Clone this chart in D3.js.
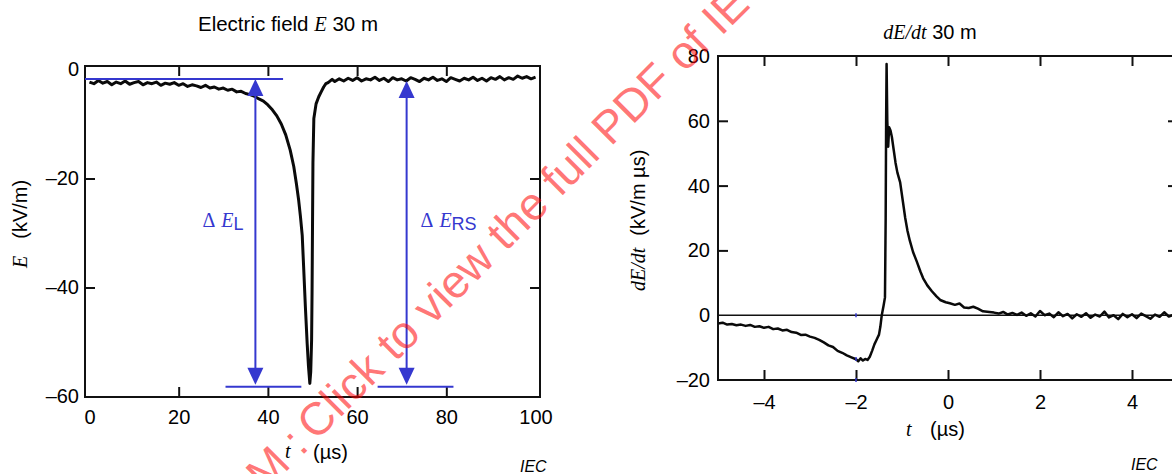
<!DOCTYPE html>
<html><head><meta charset="utf-8">
<script src="https://cdn.jsdelivr.net/npm/d3@7"></script>
<style>body{margin:0;background:#fff}svg{display:block}</style>
</head><body>
<svg id="c" width="1172" height="474"></svg>
<script>
// ---- Data: electric field E at 30 m (left) ----
const fieldTime = [0,1,2,3,4,5,6,7,8,9,10,11,12,13,14,15,16,17,18,19,20,21,22,23,24,25,26,27,28,29,30,31,32,33,34,35,36,37,38,39,40,41,42,43,44,45,45.8,46.4,46.9,47.3,47.7,48.0,48.4,48.8,49.1,49.4,49.6,49.8,49.9,50.0,50.1,50.3,50.8,51.4,52.0,52.5,53.0,53.5,54.4,55,56,57,58,59,60,61,62,63,64,65,66,67,68,69,70,71,72,73,74,75,76,77,78,79,80,81,82,83,84,85,86,87,88,89,90,91,92,93,94,95,96,97,98,99,100];
const fieldValue = [-2.3,-2.6,-2.0,-2.5,-2.2,-2.8,-2.3,-2.6,-2.1,-2.7,-2.4,-2.2,-2.8,-2.4,-2.6,-2.3,-2.9,-2.5,-2.7,-2.4,-2.9,-2.6,-3.1,-2.8,-3.0,-3.3,-2.9,-3.4,-3.2,-3.6,-3.4,-3.8,-3.6,-4.1,-4.0,-4.4,-4.6,-4.9,-5.4,-5.8,-6.5,-7.4,-8.5,-10.0,-12.0,-14.8,-17.8,-21,-24,-27,-30.5,-36,-43.5,-50.2,-54.5,-57.6,-55.5,-49.6,-41,-29,-17,-9,-6.3,-5.0,-4.0,-3.2,-2.6,-2.4,-1.8,-2.2,-1.7,-2.1,-1.6,-2.0,-1.5,-2.1,-1.7,-1.9,-1.4,-2.0,-1.6,-2.2,-1.5,-1.9,-1.7,-2.1,-1.5,-1.8,-2.2,-1.6,-1.9,-1.4,-2.0,-1.7,-2.2,-1.5,-1.8,-2.1,-1.6,-1.9,-1.4,-2.0,-1.6,-2.1,-1.5,-1.8,-1.3,-1.9,-1.5,-1.8,-1.2,-1.6,-1.3,-1.7,-1.4];

// ---- Data: dE/dt at 30 m (right) ----
const slopeTime = [-5,-4.9,-4.8,-4.7,-4.6,-4.5,-4.4,-4.3,-4.2,-4.1,-4.0,-3.9,-3.8,-3.7,-3.6,-3.5,-3.4,-3.3,-3.2,-3.1,-3.0,-2.9,-2.8,-2.7,-2.6,-2.5,-2.4,-2.3,-2.2,-2.1,-2.0,-1.95,-1.9,-1.85,-1.8,-1.75,-1.7,-1.65,-1.6,-1.55,-1.5,-1.47,-1.44,-1.4,-1.37,-1.355,-1.345,-1.335,-1.32,-1.30,-1.28,-1.25,-1.22,-1.18,-1.14,-1.1,-1.04,-0.98,-0.93,-0.88,-0.83,-0.76,-0.68,-0.6,-0.54,-0.45,-0.35,-0.25,-0.17,-0.05,0.04,0.15,0.25,0.35,0.45,0.55,0.65,0.76,0.9,1.0,1.1,1.2,1.3,1.4,1.5,1.6,1.7,1.8,1.9,2.0,2.1,2.2,2.3,2.4,2.5,2.6,2.7,2.8,2.9,3.0,3.1,3.2,3.3,3.4,3.5,3.6,3.7,3.8,3.9,4.0,4.1,4.2,4.3,4.4,4.5,4.6,4.7,4.8,4.9,5.0];
const slopeValue = [-2.6,-2.3,-2.9,-2.7,-3.1,-2.9,-3.3,-3.0,-3.6,-3.4,-3.9,-3.6,-4.3,-4.1,-4.7,-4.5,-5.2,-5.4,-6.1,-6.0,-6.6,-7.0,-7.6,-8.4,-9.3,-9.8,-11.0,-11.6,-12.4,-13.0,-13.6,-14.2,-13.3,-14.0,-13.5,-13.8,-12.8,-11.0,-9.0,-7.5,-6.0,-3.5,0,3,5.5,30,60,77.5,60,52,58,57,55,51,47,44,41,35,30,26,23,19.5,16.6,13.5,11.4,9.2,7.4,5.8,4.7,4.0,3.7,3.2,3.6,2.4,2.2,2.6,2.0,1.2,1.0,0.8,0.5,1.0,0.2,0.7,0.1,0.8,-0.2,0.6,-0.4,1.3,0.0,0.5,-0.6,0.9,-0.3,0.4,-1.0,0.3,-0.5,0.6,-0.8,0.2,-0.4,1.1,-0.7,0.0,-1.2,0.4,-0.6,0.3,-0.9,0.5,-0.3,-1.1,0.2,-0.5,0.9,-0.4,0.1,-0.3];

// ---- Ticks ----
const fieldXLabels = [0,20,40,60,80,100];
const fieldXTicks = [20,40,60,80];
const fieldYLabels = [0,-20,-40,-60];
const fieldYTicks = [-20,-40];
const slopeXLabels = [-4,-2,0,2,4];
const slopeXTicks = [-4,-2,0,2,4];
const slopeYLabels = [-20,0,20,40,60,80];
const slopeYTicks = [20,40,60];

// ---- Annotation values (data units) ----
const levelTop = -1.75, levelBottom = -58.2, levelTopRS = -2.1;
const arrowTimes = [37.2, 71.1];
const topLineSpan = [-1, 43.4];
const bottomLineSpans = [[30.5, 47.5], [64.6, 81.6]];
const slopeMarkTime = -2;
const slopeMarkValues = [0, -13.5, -20];

const SANS = "'Liberation Sans', Arial, Helvetica, sans-serif";
const SERIF = "'Liberation Serif', 'Times New Roman', serif";
const BLUE = "#3538cf";
const fmt = d => d < 0 ? "\u2013" + Math.abs(d) : String(d);

const svg = d3.select("#c");
svg.append("rect").attr("width",1172).attr("height",474).attr("fill","#fff");

// ================= LEFT PANEL =================
const xE = d3.scaleLinear().domain([-1, 101]).range([85, 540]);
const yE = d3.scaleLinear().domain([-60.1, 0.65]).range([397, 66]);

function styleAxis(g) {
  g.select(".domain").remove();
  g.attr("font-family", SANS).attr("font-size", 20);
  g.selectAll("line").attr("stroke", "#111").attr("stroke-width", 2);
  g.selectAll("text").attr("fill", "#000");
}

svg.append("g").attr("transform", `translate(0,${yE.range()[0]})`)
  .call(d3.axisBottom(xE).tickValues(fieldXLabels).tickSize(0).tickPadding(13).tickFormat(fmt))
  .call(styleAxis);
svg.append("g").attr("transform", `translate(${xE.range()[0]},0)`)
  .call(d3.axisLeft(yE).tickValues(fieldYLabels).tickSize(0).tickPadding(6).tickFormat(fmt))
  .call(styleAxis);
svg.append("g").attr("transform", `translate(0,${yE.range()[0]})`)
  .call(d3.axisBottom(xE).tickValues(fieldXTicks).tickSize(-10).tickFormat("")).call(styleAxis);
svg.append("g").attr("transform", `translate(0,${yE.range()[1]})`)
  .call(d3.axisTop(xE).tickValues(fieldXTicks).tickSize(-10).tickFormat("")).call(styleAxis);
svg.append("g").attr("transform", `translate(${xE.range()[0]},0)`)
  .call(d3.axisLeft(yE).tickValues(fieldYTicks).tickSize(-10).tickFormat("")).call(styleAxis);
svg.append("g").attr("transform", `translate(${xE.range()[1]},0)`)
  .call(d3.axisRight(yE).tickValues(fieldYTicks).tickSize(-10).tickFormat("")).call(styleAxis);

svg.append("rect").attr("x", xE.range()[0]).attr("y", yE.range()[1])
  .attr("width", xE.range()[1]-xE.range()[0]).attr("height", yE.range()[0]-yE.range()[1])
  .attr("fill","none").attr("stroke","#111").attr("stroke-width",2);

svg.append("clipPath").attr("id","clipE").append("rect")
  .attr("x", xE.range()[0]).attr("y", yE.range()[1])
  .attr("width", xE.range()[1]-xE.range()[0]).attr("height", yE.range()[0]-yE.range()[1]);
const fieldData = fieldTime.map((t,i)=>[t, fieldValue[i]]);
svg.append("path").datum(fieldData).attr("clip-path","url(#clipE)")
  .attr("fill","none").attr("stroke","#0a0a0a").attr("stroke-width",3).attr("stroke-linejoin","round")
  .attr("d", d3.line().x(d=>xE(d[0])).y(d=>yE(d[1])));

// annotations
const ann = svg.append("g");
ann.append("line").attr("x1", xE(topLineSpan[0])).attr("x2", xE(topLineSpan[1]))
  .attr("y1", yE(levelTop)).attr("y2", yE(levelTop)).attr("stroke", BLUE).attr("stroke-width", 2);
bottomLineSpans.forEach(s => {
  ann.append("line").attr("x1", xE(s[0])).attr("x2", xE(s[1]))
    .attr("y1", yE(levelBottom)).attr("y2", yE(levelBottom)).attr("stroke", BLUE).attr("stroke-width", 2);
});
const tops = [levelTop, levelTopRS];
arrowTimes.forEach((t, i) => {
  const x = xE(t), y1 = yE(tops[i]), y2 = yE(levelBottom) - 2;
  ann.append("line").attr("x1", x).attr("x2", x).attr("y1", y1+4).attr("y2", y2-4)
    .attr("stroke", BLUE).attr("stroke-width", 2);
  ann.append("path").attr("d", `M${x},${y1} L${x-8},${y1+17} L${x+8},${y1+17} Z`).attr("fill", BLUE);
  ann.append("path").attr("d", `M${x},${y2} L${x-8},${y2-17} L${x+8},${y2-17} Z`).attr("fill", BLUE);
});
function deltaLabel(x, anchor, sub) {
  const t = ann.append("text").attr("x", x).attr("y", 227).attr("text-anchor", anchor)
    .attr("fill", BLUE).attr("font-size", 20);
  t.append("tspan").attr("font-family", SERIF).text("\u0394 ");
  t.append("tspan").attr("font-family", SERIF).attr("font-style","italic").attr("dx", 2).text("E");
  t.append("tspan").attr("font-family", SANS).attr("font-size", 18).attr("dy", 3).text(sub);
}
deltaLabel(xE(arrowTimes[0]) - 12, "end", "L");
deltaLabel(xE(arrowTimes[1]) + 14, "start", "RS");

const t1 = svg.append("text").attr("x", 288).attr("y", 31).attr("text-anchor","middle")
  .attr("font-family", SANS).attr("font-size", 20.5).attr("fill","#000");
t1.append("tspan").text("Electric field ");
t1.append("tspan").attr("font-family", SERIF).attr("font-style","italic").text("E");
t1.append("tspan").text(" 30 m");

const yl1 = svg.append("text").attr("transform","translate(27,268) rotate(-90)")
  .attr("font-family", SANS).attr("font-size", 20).attr("fill","#000");
yl1.append("tspan").attr("font-family", SERIF).attr("font-style","italic").text("E");
yl1.append("tspan").attr("dx", 17).text("(kV/m)");

svg.append("text").attr("x", 285).attr("y", 458).attr("font-family", SERIF).attr("font-style","italic")
  .attr("font-size", 20).text("t");
svg.append("text").attr("x", 313).attr("y", 459).attr("font-family", SANS).attr("font-size", 20).text("(\u00b5s)");
svg.append("text").attr("x", 520).attr("y", 472).attr("font-family", SANS).attr("font-style","italic")
  .attr("font-size", 16).text("IEC");

// ================= RIGHT PANEL =================
const xS = d3.scaleLinear().domain([-5, 5]).range([718, 1178]);
const yS = d3.scaleLinear().domain([-20, 80]).range([380, 56]);

svg.append("g").attr("transform", `translate(0,${yS.range()[0]})`)
  .call(d3.axisBottom(xS).tickValues(slopeXLabels).tickSize(0).tickPadding(15).tickFormat(fmt))
  .call(styleAxis);
svg.append("g").attr("transform", `translate(${xS.range()[0]},0)`)
  .call(d3.axisLeft(yS).tickValues(slopeYLabels).tickSize(0).tickPadding(8).tickFormat(fmt))
  .call(styleAxis);
svg.append("g").attr("transform", `translate(0,${yS.range()[0]})`)
  .call(d3.axisBottom(xS).tickValues(slopeXTicks).tickSize(-10).tickFormat("")).call(styleAxis);
svg.append("g").attr("transform", `translate(0,${yS.range()[1]})`)
  .call(d3.axisTop(xS).tickValues(slopeXTicks).tickSize(-10).tickFormat("")).call(styleAxis);
svg.append("g").attr("transform", `translate(${xS.range()[0]},0)`)
  .call(d3.axisLeft(yS).tickValues(slopeYTicks).tickSize(-10).tickFormat("")).call(styleAxis);
svg.append("g").attr("transform", `translate(${xS.range()[1]},0)`)
  .call(d3.axisRight(yS).tickValues(slopeYTicks).tickSize(-10).tickFormat("")).call(styleAxis);

svg.append("rect").attr("x", xS.range()[0]).attr("y", yS.range()[1])
  .attr("width", xS.range()[1]-xS.range()[0]).attr("height", yS.range()[0]-yS.range()[1])
  .attr("fill","none").attr("stroke","#111").attr("stroke-width",2);

svg.append("line").attr("x1", xS(-5)).attr("x2", xS(5)).attr("y1", yS(0)).attr("y2", yS(0))
  .attr("stroke","#111").attr("stroke-width",1.5);

svg.append("clipPath").attr("id","clipS").append("rect")
  .attr("x", xS.range()[0]).attr("y", yS.range()[1])
  .attr("width", xS.range()[1]-xS.range()[0]).attr("height", yS.range()[0]-yS.range()[1]);
const slopeData = slopeTime.map((t,i)=>[t, slopeValue[i]]);
svg.append("path").datum(slopeData).attr("clip-path","url(#clipS)")
  .attr("fill","none").attr("stroke","#0a0a0a").attr("stroke-width",2.5).attr("stroke-linejoin","round")
  .attr("d", d3.line().x(d=>xS(d[0])).y(d=>yS(d[1])));

slopeMarkValues.forEach(v => {
  svg.append("line").attr("x1", xS(slopeMarkTime)).attr("x2", xS(slopeMarkTime))
    .attr("y1", yS(v)-2).attr("y2", yS(v)+2).attr("stroke", BLUE).attr("stroke-width", 1.5);
});

const t2 = svg.append("text").attr("x", 930).attr("y", 39).attr("text-anchor","middle")
  .attr("font-family", SANS).attr("font-size", 20).attr("fill","#000");
t2.append("tspan").attr("font-family", SERIF).attr("font-style","italic").text("dE/dt");
t2.append("tspan").text(" 30 m");

const yl2 = svg.append("text").attr("transform","translate(645,291) rotate(-90)")
  .attr("font-family", SANS).attr("font-size", 20).attr("fill","#000");
yl2.append("tspan").attr("font-family", SERIF).attr("font-style","italic").text("dE/dt");
yl2.append("tspan").attr("dx", 12).text("(kV/m \u00b5s)");

svg.append("text").attr("x", 906).attr("y", 436).attr("font-family", SERIF).attr("font-style","italic")
  .attr("font-size", 20).text("t");
svg.append("text").attr("x", 930).attr("y", 436).attr("font-family", SANS).attr("font-size", 20).text("(\u00b5s)");
svg.append("text").attr("x", 1131).attr("y", 470).attr("font-family", SANS).attr("font-style","italic")
  .attr("font-size", 16).text("IEC");

// ================= WATERMARK =================
const wm = svg.append("g").attr("transform","translate(316,442) rotate(-45)")
  .attr("font-family", SANS).attr("font-size", 46).attr("fill","rgba(255,0,0,0.55)");
wm.append("text").attr("text-anchor","end").attr("x",-8).text("IECNORM.COM :");
wm.append("text").attr("text-anchor","start").attr("x",0).text("Click to view the full PDF of IEC");
</script>
</body></html>
